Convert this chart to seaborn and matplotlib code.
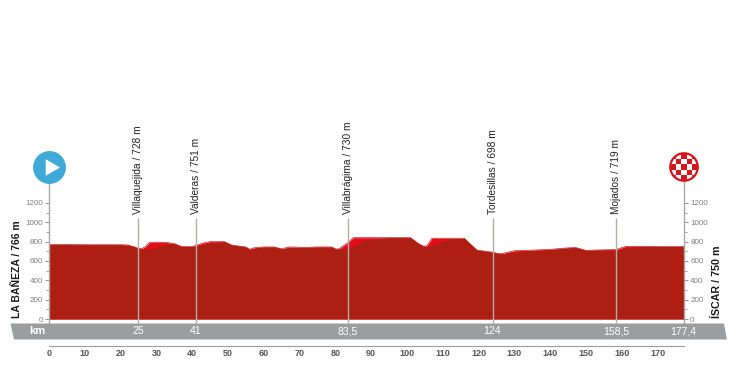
import numpy as np
import pandas as pd
import matplotlib
matplotlib.use('Agg')
import matplotlib.pyplot as plt
from matplotlib.patches import Polygon, Circle
import seaborn as sns

km = [0, 10, 20, 22, 24, 25, 26, 27, 28, 30, 33, 35, 37, 40, 41, 43, 45, 49, 51, 55, 56, 57, 60, 63, 65, 67,
      72, 75, 79, 80, 81, 83.5, 85, 88, 95, 101, 103, 104.5, 105.5, 107, 112, 116, 119.5, 122, 124, 125.8,
      127, 130, 135, 140, 145, 147, 150, 155, 158.5, 161, 165, 170, 177.4]
elevation = [770, 768, 768, 765, 745, 728, 730, 750, 790, 795, 790, 780, 750, 750, 760, 785, 800, 800, 765, 745, 720,
             735, 745, 745, 725, 745, 740, 745, 745, 725, 725, 790, 841, 841, 841, 841, 785, 755, 755, 835, 835,
             835, 713, 700, 690, 675, 680, 706, 712, 720, 735, 740, 710, 715, 719, 750, 752, 750, 750]
shadow = [770, 768, 768, 765, 745, 728, 725, 722, 728, 745, 770, 780, 750, 750, 755, 768, 785, 800, 765, 745, 720,
          730, 745, 745, 725, 738, 740, 745, 745, 725, 725, 735, 755, 815, 841, 841, 785, 755, 750, 760, 825,
          835, 713, 700, 690, 675, 672, 692, 708, 718, 735, 740, 710, 715, 712, 735, 750, 750, 750]

stop_km = [25, 41, 83.5, 124, 158.5]
stop_names = ['Villaquejida / 728 m', 'Valderas / 751 m', 'Villabrágima / 730 m', 'Tordesillas / 698 m', 'Mojados / 719 m']
band_labels = ['25', '41', '83,5', '124', '158,5', '177,4']
km_total = 177.4
start_label = 'LA BAÑEZA / 766 m'
finish_label = 'ÍSCAR / 750 m'

df = pd.DataFrame({'km': km, 'elevation': elevation, 'shadow': shadow})

sns.set_theme(style='white')
sans = 'Liberation Sans'
W, H = 736, 371
M = 0.0967  # px per metre

fig = plt.figure(figsize=(W / 100, H / 100), dpi=100)
ax = fig.add_axes([49 / W, (H - 319) / H, 635 / W, 189 / H])
ax.patch.set_alpha(0)
ax.set_xlim(0, km_total)
ax.set_ylim(0, 189 / M)

# profile, bright climbs under the dark shadow
ax.fill_between(df.km, df.elevation, color='#e30d1c', lw=0)
ax.fill_between(df.km, df.shadow, color='#ad1f13', lw=0)
sns.lineplot(data=df, x='km', y='elevation', ax=ax, color='#c0181a', lw=0.5)
ax.set_xlabel('')
ax.set_ylabel('')

# axis colours
grey = '#8f9396'
sns.despine(ax=ax, top=True, bottom=True, left=False, right=False)
for s in ['left', 'right']:
    ax.spines[s].set_color('#a5a8aa')
    ax.spines[s].set_linewidth(1)
    ax.spines[s].set_bounds(-40, 1570)
ax.set_xticks([])
ax.set_yticks(np.arange(0, 1201, 200))
ax.set_yticks(np.arange(100, 1200, 200), minor=True)
ax.tick_params(axis='y', which='major', left=True, right=True, labelleft=True, labelright=True,
               length=3, width=0.7, color=grey, labelcolor='#7d8082', labelsize=5.8, pad=1.5)
ax.tick_params(axis='y', which='minor', left=True, right=True, length=2, width=0.6, color=grey)
for t in ax.get_yticklabels():
    t.set_family(sans)

# stops
for k, name in zip(stop_km, stop_names):
    ax.vlines(k, -40, 1044, color='#b3aea6', lw=1, clip_on=False)
    ax.text(k, 1085, name, rotation=90, ha='center', va='bottom', fontsize=7.3, color='#222222',
            family=sans, clip_on=False)

# start and finish names
fig.text(17.5 / W, (H - 318) / H, start_label, rotation=90, ha='center', va='bottom', fontsize=7.5,
         fontweight='bold', color='#1a1a1a', family=sans)
fig.text(717.5 / W, (H - 318) / H, finish_label, rotation=90, ha='center', va='bottom', fontsize=7.7,
         fontweight='bold', color='#1a1a1a', family=sans)

# km band
band = [(10.5, 323.5), (724, 323.5), (727, 339.5), (14, 339.5)]
fig.add_artist(Polygon([(x / W, (H - y) / H) for x, y in band], closed=True, transform=fig.transFigure,
                       color='#9a9ea1', lw=0, zorder=0.5))
fig.text(37.5 / W, (H - 331.5) / H, 'km', ha='center', va='center', color='white', fontsize=8,
         fontweight='bold', family=sans)
for k, lab in zip(stop_km + [km_total], band_labels):
    fig.text((49 + k * 3.576) / W, (H - 331.5) / H, lab, ha='center', va='center', color='white',
             fontsize=7.5, family=sans)

# km axis
ax_km = fig.add_axes([49 / W, (H - 346) / H, 635 / W, 1 / H])
ax_km.patch.set_alpha(0)
ax_km.set_xlim(0, km_total)
ax_km.set_yticks([])
sns.despine(ax=ax_km, left=True, top=True, right=True)
ax_km.spines['bottom'].set_color('#9a9ea1')
ax_km.spines['bottom'].set_linewidth(0.8)
ticks = list(range(0, 171, 10)) + [km_total]
ax_km.set_xticks(ticks)
ax_km.set_xticklabels([str(t) for t in range(0, 171, 10)] + [''])
ax_km.tick_params(axis='x', direction='in', length=3, width=0.7, color='#8a8e91', labelcolor='#555555',
                  labelsize=6.5, pad=2)
for t in ax_km.get_xticklabels():
    t.set_family(sans)
    t.set_fontweight('bold')

# start marker
marker_y = (319 - 167) / M
ax.scatter([0], [marker_y], s=560, color='#3fa9d8', lw=0, clip_on=False, zorder=5)
ax.scatter([0.4], [marker_y], s=190, marker=(3, 0, -90), color='white', lw=0, clip_on=False, zorder=6)

# finish marker
r_km = 14 / 3.576
r_m = 14 / M
ins = ax.inset_axes([km_total - r_km, marker_y - r_m, 2 * r_km, 2 * r_m], transform=ax.transData, zorder=6)
checker = [[0, 1, 0, 1, 0], [1, 0, 1, 0, 1], [0, 1, 0, 1, 0], [1, 0, 1, 0, 1], [0, 1, 0, 1, 0]]
sns.heatmap(checker, ax=ins, cbar=False, cmap=['#d8141f', '#ffffff'], xticklabels=False, yticklabels=False)
ins.collections[0].set_clip_path(Circle((0.5, 0.5), 0.5, transform=ins.transAxes))
ins.axis('off')
ins.add_patch(Circle((0.5, 0.5), 0.49, transform=ins.transAxes, fill=False, ec='#d8141f', lw=1.6, clip_on=False))

fig.savefig('out.png', dpi=100)
